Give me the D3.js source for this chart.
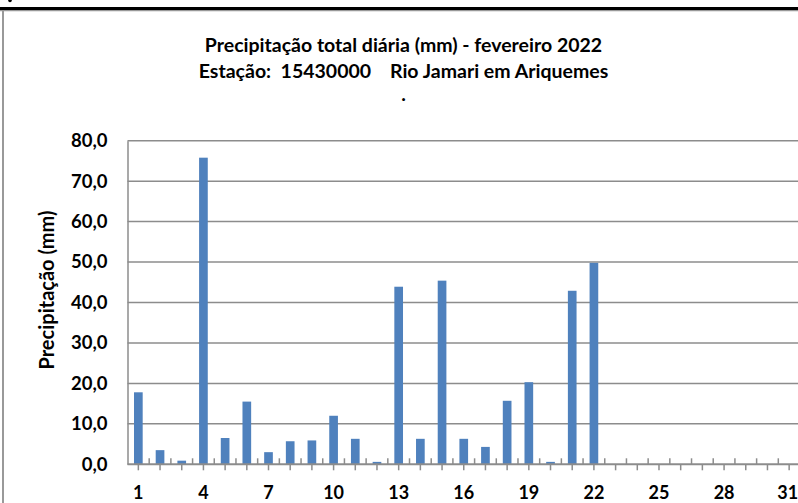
<!DOCTYPE html>
<html><head><meta charset="utf-8">
<script src="https://cdn.jsdelivr.net/npm/d3@7"></script>
<style>body{margin:0;background:#fff}svg{display:block}</style>
</head><body>
<svg id="c" width="798" height="503"></svg>
<script>
const days = d3.range(1, 32).map(String);
const precip = [17.8,3.5,0.9,75.8,6.5,15.5,3.0,5.7,5.9,12.0,6.3,0.6,43.9,6.3,45.4,6.3,4.3,15.7,20.3,0.6,42.9,49.8,0,0,0,0,0,0,0,0,0];
const yTicks = [0,10,20,30,40,50,60,70,80];
const xLabels = ["1","4","7","10","13","16","19","22","25","28","31"];
const titleLines = ["Precipitação total diária (mm) - fevereiro 2022","Estação:  15430000    Rio Jamari em Ariquemes","."];
const yTitle = "Precipitação (mm)";

const svg = d3.select("#c");
const font = "Lato, 'Open Sans', sans-serif";
const pLeft = 127.5, pRight = 800, pTop = 140.7, pBottom = 464.3;
const x = d3.scaleBand().domain(days).range([pLeft, pRight]).paddingInner(0.6).paddingOuter(0.3);
const y = d3.scaleLinear().domain([0, 80]).range([pBottom, pTop]);
const step = x.step();
const cx = d => x(d) + x.bandwidth()/2;

// frame
svg.append("line").attr("x1",0).attr("x2",798).attr("y1",10.5).attr("y2",10.5).attr("stroke","#999").attr("stroke-width",1.5);
svg.append("line").attr("x1",0).attr("x2",798).attr("y1",8.5).attr("y2",8.5).attr("stroke","#000").attr("stroke-width",3);
svg.append("line").attr("x1",3).attr("x2",3).attr("y1",10).attr("y2",503).attr("stroke","#999").attr("stroke-width",2);
svg.append("circle").attr("cx",10).attr("cy",0.5).attr("r",1.8).attr("fill","#000");

// titles
const titleY = [52, 78, 101];
svg.append("g").selectAll("text").data(titleLines).join("text")
  .attr("x",403.5).attr("y",(d,i)=>titleY[i]).attr("text-anchor","middle")
  .style("white-space","pre")
  .attr("font-family",font).attr("font-weight","bold").attr("font-size",19.5).attr("fill","#000")
  .text(d=>d);

// gridlines
svg.append("g").selectAll("line").data(yTicks.filter(t=>t>0)).join("line")
  .attr("x1",pLeft).attr("x2",798).attr("y1",d=>y(d)).attr("y2",d=>y(d))
  .attr("stroke","#8c8c8c").attr("stroke-width",1.5);

// y axis
const yAxis = svg.append("g").attr("transform",`translate(${pLeft},0)`)
  .call(d3.axisLeft(y).tickValues(yTicks).tickSize(0).tickPadding(20).tickFormat(d=>d3.format(".1f")(d).replace(".",",")));
yAxis.select(".domain").attr("stroke","#8c8c8c").attr("stroke-width",1.5);
yAxis.selectAll("text").attr("font-family",font).attr("font-weight","bold").attr("font-size",18.5).attr("fill","#000");

// bars
svg.append("g").selectAll("rect").data(precip.map((v,i)=>({d:days[i],v}))).join("rect")
  .attr("x",p=>x(p.d)).attr("width",x.bandwidth())
  .attr("y",p=>y(p.v)).attr("height",p=>y(0)-y(p.v))
  .attr("fill","#4f81bd");

// x axis
const xg = svg.append("g").attr("transform",`translate(0,${pBottom})`);
xg.append("line").attr("x1",pLeft).attr("x2",798).attr("stroke","#8c8c8c").attr("stroke-width",2);
xg.selectAll("line.maj").data(days).join("line").attr("class","maj")
  .attr("x1",cx).attr("x2",cx).attr("y1",0).attr("y2",6).attr("stroke","#8c8c8c").attr("stroke-width",1.5);
xg.selectAll("line.min").data(days.slice(1)).join("line").attr("class","min")
  .attr("x1",d=>x(d)-(step-x.bandwidth())/2).attr("x2",d=>x(d)-(step-x.bandwidth())/2)
  .attr("y1",0).attr("y2",-6).attr("stroke","#8c8c8c").attr("stroke-width",1.5);
xg.selectAll("text").data(xLabels).join("text")
  .attr("x",cx).attr("y",35).attr("text-anchor",(d,i)=>i===xLabels.length-1?"end":"middle")
  .attr("dx",(d,i)=>i===xLabels.length-1?9:0)
  .attr("font-family",font).attr("font-weight","bold").attr("font-size",18).attr("fill","#000")
  .text(d=>d);

// y title
svg.append("text").attr("transform","translate(54,290) rotate(-90)").attr("text-anchor","middle")
  .attr("font-family",font).attr("font-weight","bold").attr("font-size",20).attr("fill","#000")
  .text(yTitle);
</script>
</body></html>
